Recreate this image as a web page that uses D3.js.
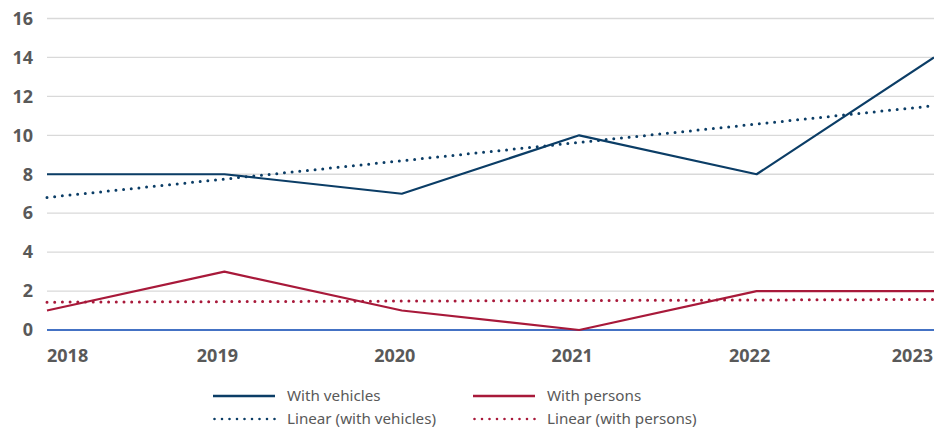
<!DOCTYPE html>
<html>
<head>
<meta charset="utf-8">
<script src="https://cdn.jsdelivr.net/npm/d3@7"></script>
<style>
  body { margin: 0; background: #fff; }
  svg { display: block; }
</style>
</head>
<body>
<svg width="934" height="445"></svg>
<script>
// Values
const years = ["2018", "2019", "2020", "2021", "2022", "2023"];
const withVehicles = [8, 8, 7, 10, 8, 14];
const withPersons = [1, 3, 1, 0, 2, 2];
// trend line end values (first and last year)
const vehiclesTrend = [6.81, 11.52];
const personsTrend = [1.43, 1.57];
const yTicks = [0, 2, 4, 6, 8, 10, 12, 14, 16];

const navy = "#0b3d66";
const red = "#a8193a";

const svg = d3.select("svg");

const x = d3.scalePoint().domain(years).range([47, 934]);
const y = d3.scaleLinear().domain([0, 16]).range([330, 18.5]);

// gridlines
svg
  .append("g")
  .selectAll("line")
  .data(yTicks.filter((d) => d > 0))
  .join("line")
  .attr("x1", 47)
  .attr("x2", 934)
  .attr("y1", (d) => y(d))
  .attr("y2", (d) => y(d))
  .attr("stroke", "#d9d9d9")
  .attr("stroke-width", 1.3);

// y axis labels
const yAxis = svg
  .append("g")
  .attr("transform", "translate(33,0)")
  .call(d3.axisLeft(y).tickValues(yTicks).tickSize(0).tickPadding(0));
yAxis.select(".domain").remove();
yAxis
  .selectAll("text")
  .attr("fill", "#595959")
  .style("font", "bold 18px 'Noto Sans', sans-serif");

// zero line
svg
  .append("line")
  .attr("x1", 47)
  .attr("x2", 934)
  .attr("y1", y(0))
  .attr("y2", y(0))
  .attr("stroke", "#4472c4")
  .attr("stroke-width", 2);

// x labels (first and last kept inside the plot edges)
svg
  .append("g")
  .selectAll("text")
  .data(years)
  .join("text")
  .attr("x", (d, i) => (i === 0 ? x(d) : i === years.length - 1 ? x(d) - 1 : x(d) - 7))
  .attr("y", 362)
  .attr("text-anchor", (d, i) => (i === 0 ? "start" : i === years.length - 1 ? "end" : "middle"))
  .attr("fill", "#595959")
  .style("font", "bold 18px 'Noto Sans', sans-serif")
  .text((d) => d);

const line = d3
  .line()
  .x((d) => d[0])
  .y((d) => d[1]);

const trendPts = (vals) => [
  [x(years[0]), y(vals[0])],
  [x(years[years.length - 1]), y(vals[1])],
];

// dotted trend lines
[
  [vehiclesTrend, navy],
  [personsTrend, red],
].forEach(([vals, color]) => {
  svg
    .append("path")
    .attr("d", line(trendPts(vals)))
    .attr("fill", "none")
    .attr("stroke", color)
    .attr("stroke-width", 3)
    .attr("stroke-linecap", "round")
    .attr("stroke-dasharray", "0 7.7");
});

// series lines
[
  [withVehicles, navy],
  [withPersons, red],
].forEach(([vals, color]) => {
  svg
    .append("path")
    .attr("d", line(vals.map((v, i) => [x(years[i]), y(v)])))
    .attr("fill", "none")
    .attr("stroke", color)
    .attr("stroke-width", 2.2)
    .attr("stroke-linejoin", "round");
});

// legend
const legendItems = [
  { label: "With vehicles", color: navy, dotted: false, x: 213, y: 396 },
  { label: "With persons", color: red, dotted: false, x: 473, y: 396 },
  { label: "Linear (with vehicles)", color: navy, dotted: true, x: 213, y: 419 },
  { label: "Linear (with persons)", color: red, dotted: true, x: 473, y: 419 },
];

const legend = svg
  .append("g")
  .selectAll("g")
  .data(legendItems)
  .join("g")
  .attr("transform", (d) => `translate(${d.x},${d.y})`);

legend
  .append("line")
  .attr("x1", (d) => (d.dotted ? 1.5 : 0))
  .attr("x2", 62)
  .attr("stroke", (d) => d.color)
  .attr("stroke-width", (d) => (d.dotted ? 2.6 : 2.4))
  .attr("stroke-linecap", (d) => (d.dotted ? "round" : "butt"))
  .attr("stroke-dasharray", (d) => (d.dotted ? "0 7.5" : null));

legend
  .append("text")
  .attr("x", 74)
  .attr("y", 5)
  .attr("fill", "#595959")
  .style("font", "15.2px 'Noto Sans', sans-serif")
  .text((d) => d.label);
</script>
</body>
</html>
